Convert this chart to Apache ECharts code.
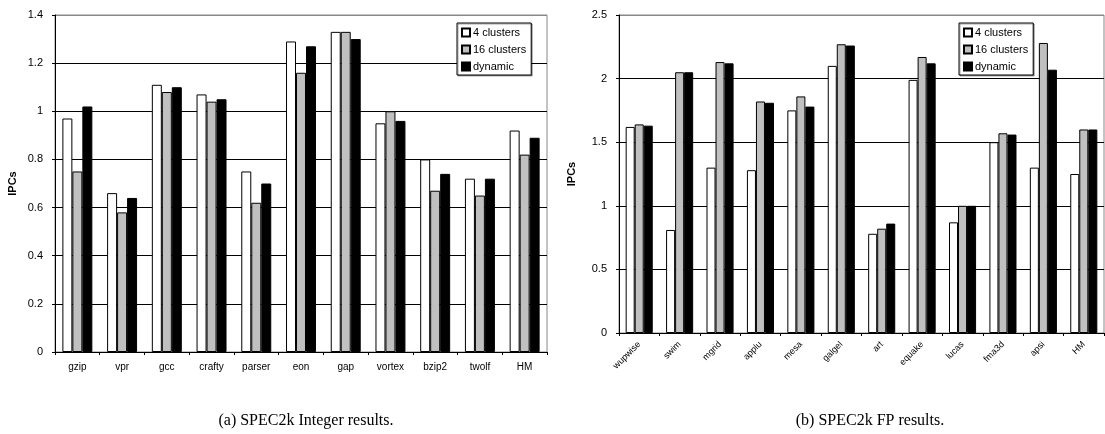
<!DOCTYPE html>
<html>
<head>
<meta charset="utf-8">
<script src="https://cdn.jsdelivr.net/npm/echarts@6/dist/echarts.min.js"></script>
<style>
html, body { margin: 0; padding: 0; background: #fff; }
#chart { width: 1105px; height: 434px; }
</style>
</head>
<body>
<div id="chart"></div>
<script>
// SPEC2k integer benchmarks
var intNames = ['gzip', 'vpr', 'gcc', 'crafty', 'parser', 'eon', 'gap', 'vortex', 'bzip2', 'twolf', 'HM'];
var int4 = [0.97, 0.66, 1.11, 1.07, 0.75, 1.29, 1.33, 0.95, 0.80, 0.72, 0.92];
var int16 = [0.75, 0.58, 1.08, 1.04, 0.62, 1.16, 1.33, 1.00, 0.67, 0.65, 0.82];
var intDyn = [1.02, 0.64, 1.10, 1.05, 0.70, 1.27, 1.30, 0.96, 0.74, 0.72, 0.89];

// SPEC2k FP benchmarks
var fpNames = ['wupwise', 'swim', 'mgrid', 'applu', 'mesa', 'galgel', 'art', 'equake', 'lucas', 'fma3d', 'apsi', 'HM'];
var fp4 = [1.62, 0.81, 1.30, 1.28, 1.75, 2.10, 0.78, 1.99, 0.87, 1.50, 1.30, 1.25];
var fp16 = [1.64, 2.05, 2.13, 1.82, 1.86, 2.27, 0.82, 2.17, 1.00, 1.57, 2.28, 1.60];
var fpDyn = [1.63, 2.05, 2.12, 1.81, 1.78, 2.26, 0.86, 2.12, 1.00, 1.56, 2.07, 1.60];

var seriesNames = ['4 clusters', '16 clusters', 'dynamic'];
var seriesColors = ['#ffffff', '#c0c0c0', '#000000'];
var captions = ['(a) SPEC2k Integer results.', '(b) SPEC2k FP results.'];

var font = 'Liberation Sans';
var myChart = echarts.init(document.getElementById('chart'));

function makeLegend(left) {
    return {
        data: seriesNames,
        orient: 'vertical',
        left: left,
        top: 23,
        icon: 'rect',
        itemWidth: 8,
        itemHeight: 8,
        itemGap: 6,
        padding: [4, 5, 3, 4],
        backgroundColor: '#fff',
        borderColor: '#000',
        borderWidth: 1,
        shadowColor: 'rgba(0,0,0,0.35)',
        shadowOffsetX: 1,
        shadowOffsetY: 1,
        selectedMode: false,
        textStyle: { fontFamily: font, fontSize: 11, color: '#000', padding: [0, 0, 0, -2] }
    };
}

function makeX(idx, names, rotate) {
    return {
        type: 'category',
        gridIndex: idx,
        data: names,
        axisLine: { lineStyle: { color: '#000', width: 1 } },
        axisTick: { show: true, length: 3, lineStyle: { color: '#000' } },
        axisLabel: {
            interval: 0,
            rotate: rotate,
            margin: 10,
            fontFamily: font,
            fontSize: rotate ? 9 : 10,
            color: '#000'
        }
    };
}

function makeY(idx, max, step, gridColors) {
    return {
        type: 'value',
        gridIndex: idx,
        min: 0,
        max: max,
        interval: step,
        name: 'IPCs',
        nameLocation: 'middle',
        nameGap: idx === 0 ? 37 : 42,
        nameTextStyle: { fontFamily: font, fontSize: 11, fontWeight: 'bold', color: '#000' },
        axisLine: { show: true, lineStyle: { color: '#000', width: 1 } },
        axisTick: { show: true, length: 3, lineStyle: { color: '#000' } },
        axisLabel: { margin: 12, fontFamily: font, fontSize: 11, color: '#000' },
        splitLine: { show: true, lineStyle: { color: gridColors, width: 1 } }
    };
}

function makeBar(name, color, data, idx) {
    return {
        name: name,
        type: 'bar',
        xAxisIndex: idx,
        yAxisIndex: idx,
        data: data,
        barGap: '0%',
        barCategoryGap: '33%',
        itemStyle: { color: color, borderColor: '#000', borderWidth: 1 }
    };
}

var option = {
    animation: false,
    backgroundColor: '#fff',
    title: [
        { text: captions[0], left: 301, top: 408, textAlign: 'center',
          textStyle: { fontFamily: 'Liberation Serif', fontSize: 16, fontWeight: 'normal', color: '#000' } },
        { text: captions[1], left: 865, top: 408, textAlign: 'center',
          textStyle: { fontFamily: 'Liberation Serif', fontSize: 16, fontWeight: 'normal', color: '#000' } }
    ],
    legend: [makeLegend(457), makeLegend(959)],
    grid: [
        { left: 55, top: 15, width: 492, height: 337, show: true, borderColor: '#888', borderWidth: 1 },
        { left: 619, top: 15, width: 485, height: 318, show: true, borderColor: '#888', borderWidth: 1 }
    ],
    xAxis: [makeX(0, intNames, 0), makeX(1, fpNames, 45)],
    yAxis: [
        makeY(0, 1.4, 0.2, ['#000', '#000', '#000', '#000', '#000', '#000', '#000', '#888']),
        makeY(1, 2.5, 0.5, ['#000', '#000', '#000', '#000', '#000', '#888'])
    ],
    series: [
        makeBar(seriesNames[0], seriesColors[0], int4, 0),
        makeBar(seriesNames[1], seriesColors[1], int16, 0),
        makeBar(seriesNames[2], seriesColors[2], intDyn, 0),
        makeBar(seriesNames[0], seriesColors[0], fp4, 1),
        makeBar(seriesNames[1], seriesColors[1], fp16, 1),
        makeBar(seriesNames[2], seriesColors[2], fpDyn, 1)
    ]
};

myChart.setOption(option);
</script>
</body>
</html>
